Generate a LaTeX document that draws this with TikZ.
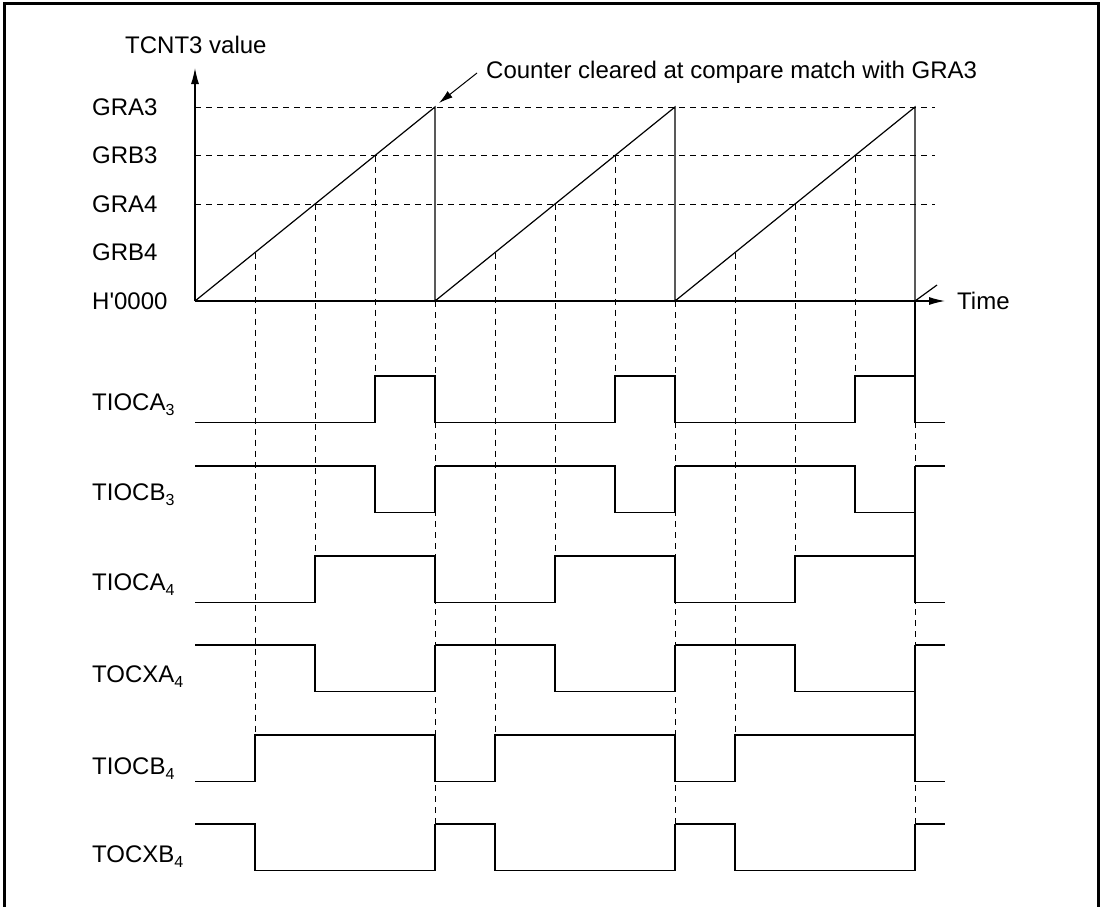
\documentclass[tikz,border=0pt]{standalone}
\usepackage{fontspec}
\setmainfont{Liberation Sans}
\usetikzlibrary{arrows.meta}
\newcommand{\sigsub}[2]{#1\raisebox{-5pt}{\fontsize{16}{18}\selectfont #2}}
\newcommand{\pulsewave}[3]{%
  \foreach \p in {0,240,480} {
    \draw[wave] (195+\p,#1) -- (#3+\p,#1) -- (#3+\p,#2) -- (435+\p,#2) -- (435+\p,#1);
  }
  \draw[wave] (915,#1) -- (945,#1);%
}
\begin{document}
\begin{tikzpicture}[x=1pt,y=-1pt,
  lbl/.style={font=\fontsize{24}{28}\selectfont, inner sep=0pt},
  wave/.style={line width=1.2pt, line join=miter},
  guide/.style={line width=1pt, dash pattern=on 6pt off 5pt},
  axis/.style={line width=1.2pt, -{Latex[length=16pt,width=8pt]}},
  frame/.style={line width=3pt}]
\useasboundingbox (0,0) rectangle (1103,906);
\begin{scope}
\clip (0,0) rectangle (1103,906);
\draw[frame] (4.5,3) rectangle (1098,920);
\end{scope}

% coordinates
\coordinate (O) at (195,301);
\coordinate (ytop) at (195,68);
\coordinate (xend) at (945,301);

% level dashed lines
\foreach \y in {107,155.5,204} {
  \draw[guide] (195,\y) -- (935,\y);
}

% vertical guides from ramp
\foreach \p in {0,240,480} {
  \draw[guide] (255+\p,252.5) -- (255+\p,735);
  \draw[guide] (315+\p,204) -- (315+\p,556);
  \draw[guide] (375+\p,155.5) -- (375+\p,376);
  \draw[guide] (435+\p,301) -- (435+\p,824);
}

% ramps
\draw[wave] (O) -- (435,107) -- (435,301) -- (675,107) -- (675,301) -- (915,107) -- (915,301);
% solid pieces at the last boundary
\draw[wave] (915,301) -- (915,376);
\draw[wave] (915,512) -- (915,556);
\draw[wave] (915,692) -- (915,735);

% axes
\draw[axis] (O) -- (ytop);
\draw[axis] (O) -- (xend);
\draw[wave] (915,301) -- (937,285);

% signals
\pulsewave{422.5}{376}{375}
\pulsewave{466}{512.5}{375}
\pulsewave{602.5}{556}{315}
\pulsewave{645}{691.5}{315}
\pulsewave{781.5}{735}{255}
\pulsewave{824}{870.5}{255}

% labels
\node[lbl, anchor=base west] (ylabel) at (125,53) {TCNT3 value};
\node[lbl, anchor=west] (gra3) at (92,107) {GRA3};
\node[lbl, anchor=west] (grb3) at (92,155.5) {GRB3};
\node[lbl, anchor=west] (gra4) at (92,204) {GRA4};
\node[lbl, anchor=west] (grb4) at (92,252.5) {GRB4};
\node[lbl, anchor=west] (h0) at (92,301) {H\textquotesingle0000};
\node[lbl, anchor=base west] (time) at (957,309) {Time};
\node[lbl, anchor=base west] (cc) at (486,78.5) {Counter cleared at compare match with GRA3};
\coordinate (ccs) at (477,73);
\coordinate (cce) at (439,103);
\draw[line width=1pt, -{Latex[length=14pt,width=8pt]}] (ccs) -- (cce);

\node[lbl, anchor=base west] (s1) at (92,410) {\sigsub{TIOCA}{3}};
\node[lbl, anchor=base west] (s2) at (92,500) {\sigsub{TIOCB}{3}};
\node[lbl, anchor=base west] (s3) at (92,590) {\sigsub{TIOCA}{4}};
\node[lbl, anchor=base west] (s4) at (92,682) {\sigsub{TOCXA}{4}};
\node[lbl, anchor=base west] (s5) at (92,774) {\sigsub{TIOCB}{4}};
\node[lbl, anchor=base west] (s6) at (92,862) {\sigsub{TOCXB}{4}};
\end{tikzpicture}
\end{document}
